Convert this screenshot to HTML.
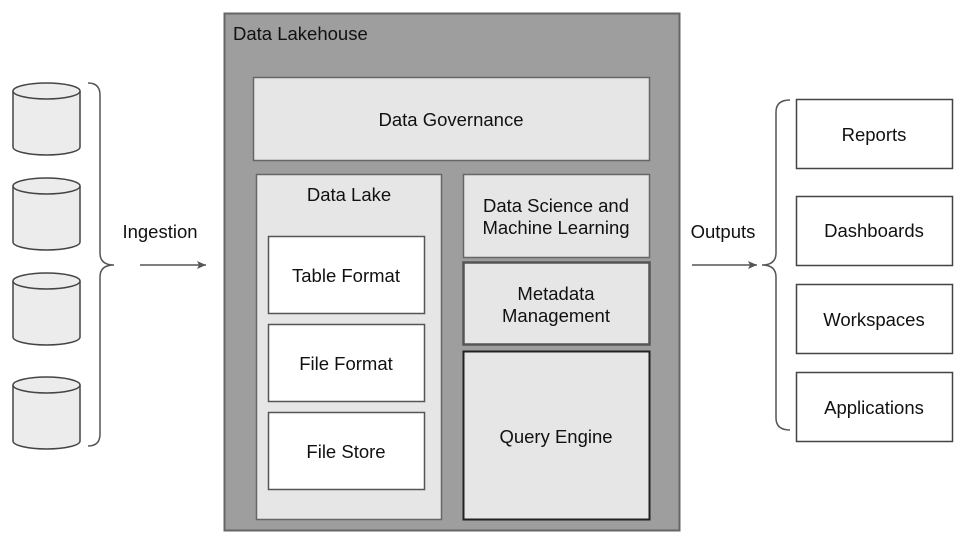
<!DOCTYPE html>
<html><head><meta charset="utf-8"><style>
body{margin:0;background:#fff}
svg text{font-family:"Liberation Sans",Arial,sans-serif;font-size:18.5px;fill:#111}
</style></head><body>
<svg width="960" height="540" viewBox="0 0 960 540" xmlns="http://www.w3.org/2000/svg">
<defs><marker id="a" markerWidth="10" markerHeight="10" refX="9" refY="5" orient="auto" markerUnits="userSpaceOnUse"><path d="M0,1 L9,5 L0,9 L2,5 Z" fill="#555"/></marker></defs>
<rect x="224.5" y="13.5" width="455" height="517" fill="#9e9e9e" stroke="#666" stroke-width="2"/>
<text x="233" y="40" text-anchor="start">Data Lakehouse</text>
<rect x="253.5" y="77.5" width="396" height="83" fill="#e6e6e6" stroke="#666" stroke-width="1.5"/>
<text x="451" y="126" text-anchor="middle">Data Governance</text>
<rect x="256.5" y="174.5" width="185" height="345" fill="#e6e6e6" stroke="#666" stroke-width="1.5"/>
<text x="349" y="201" text-anchor="middle">Data Lake</text>
<rect x="268.5" y="236.5" width="156" height="77" fill="#fff" stroke="#555" stroke-width="1.5"/>
<text x="346" y="282" text-anchor="middle">Table Format</text>
<rect x="268.5" y="324.5" width="156" height="77" fill="#fff" stroke="#555" stroke-width="1.5"/>
<text x="346" y="370" text-anchor="middle">File Format</text>
<rect x="268.5" y="412.5" width="156" height="77" fill="#fff" stroke="#555" stroke-width="1.5"/>
<text x="346" y="458" text-anchor="middle">File Store</text>
<rect x="463.5" y="174.5" width="186" height="83" fill="#e6e6e6" stroke="#666" stroke-width="1.5"/>
<text x="556" y="212" text-anchor="middle">Data Science and</text>
<text x="556" y="234" text-anchor="middle">Machine Learning</text>
<rect x="463.5" y="262.5" width="186" height="82" fill="#e6e6e6" stroke="#555" stroke-width="2.5"/>
<text x="556" y="300" text-anchor="middle">Metadata</text>
<text x="556" y="322" text-anchor="middle">Management</text>
<rect x="463.5" y="351.5" width="186" height="168" fill="#e6e6e6" stroke="#222" stroke-width="2"/>
<text x="556" y="443" text-anchor="middle">Query Engine</text>
<g fill="#ececec" stroke="#444" stroke-width="1.5">
<g transform="translate(0,83)"><path d="M13,8 V64 A33.5,8 0 0 0 80,64 V8"/><ellipse cx="46.5" cy="8" rx="33.5" ry="8"/></g>
<g transform="translate(0,178)"><path d="M13,8 V64 A33.5,8 0 0 0 80,64 V8"/><ellipse cx="46.5" cy="8" rx="33.5" ry="8"/></g>
<g transform="translate(0,273)"><path d="M13,8 V64 A33.5,8 0 0 0 80,64 V8"/><ellipse cx="46.5" cy="8" rx="33.5" ry="8"/></g>
<g transform="translate(0,377)"><path d="M13,8 V64 A33.5,8 0 0 0 80,64 V8"/><ellipse cx="46.5" cy="8" rx="33.5" ry="8"/></g>
</g>
<g fill="none" stroke="#555" stroke-width="1.5">
<path d="M88,83 Q100,83 100,95 V253 Q100,265 114,265 Q100,265 100,277 V434 Q100,446 88,446"/>
<path d="M790,100 Q776,100 776,112 V253 Q776,265 762,265 Q776,265 776,277 V418 Q776,430 790,430"/>
<line x1="140" y1="265" x2="206" y2="265" marker-end="url(#a)"/>
<line x1="692" y1="265" x2="757" y2="265" marker-end="url(#a)"/>
</g>
<text x="160" y="238" text-anchor="middle">Ingestion</text>
<text x="723" y="238" text-anchor="middle">Outputs</text>
<g fill="#fff" stroke="#444" stroke-width="1.5">
<rect x="796.5" y="99.5" width="156" height="69"/>
<rect x="796.5" y="196.5" width="156" height="69"/>
<rect x="796.5" y="284.5" width="156" height="69"/>
<rect x="796.5" y="372.5" width="156" height="69"/>
</g>
<text x="874" y="141" text-anchor="middle">Reports</text>
<text x="874" y="237" text-anchor="middle">Dashboards</text>
<text x="874" y="326" text-anchor="middle">Workspaces</text>
<text x="874" y="414" text-anchor="middle">Applications</text>
</svg>
</body></html>
